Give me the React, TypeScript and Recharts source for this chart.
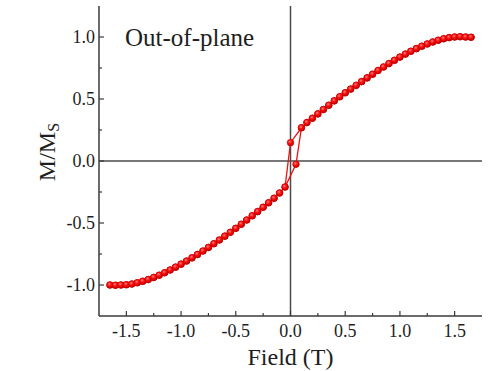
import { Line, LineChart, ReferenceLine, XAxis, YAxis } from "recharts";

// field sweep from +sat down to -sat (T)
const fieldDown = [
  1.65, 1.6, 1.55, 1.5, 1.45, 1.4, 1.35, 1.3, 1.25, 1.2, 1.15, 1.1, 1.05, 1.0, 0.95, 0.9,
  0.85, 0.8, 0.75, 0.7, 0.65, 0.6, 0.55, 0.5, 0.45, 0.4, 0.35, 0.3, 0.25, 0.2, 0.15, 0.1,
  0.0, -0.05, -0.1, -0.15, -0.2, -0.25, -0.3, -0.35, -0.4, -0.45, -0.5, -0.55, -0.6, -0.65,
  -0.7, -0.75, -0.8, -0.85, -0.9, -0.95, -1.0, -1.05, -1.1, -1.15, -1.2, -1.25, -1.3, -1.35,
  -1.4, -1.45, -1.5, -1.55, -1.6, -1.65,
];
const mDown = [
  0.998, 1.0, 1.002, 1.0, 0.995, 0.986, 0.974, 0.96, 0.944, 0.926, 0.906, 0.885, 0.862, 0.838,
  0.812, 0.786, 0.758, 0.73, 0.7, 0.67, 0.64, 0.61, 0.58, 0.55, 0.518, 0.485, 0.45, 0.415, 0.38,
  0.345, 0.31, 0.268, 0.148, -0.21, -0.258, -0.3, -0.337, -0.373, -0.408, -0.442, -0.476, -0.51,
  -0.543, -0.575, -0.606, -0.637, -0.667, -0.697, -0.726, -0.754, -0.781, -0.807, -0.832, -0.856,
  -0.879, -0.901, -0.921, -0.939, -0.956, -0.97, -0.982, -0.992, -0.998, -1.0, -1.002, -1.0,
];

// return sweep from -sat back up to +sat
const fieldUp = [
  -1.65, -1.6, -1.55, -1.5, -1.45, -1.4, -1.35, -1.3, -1.25, -1.2, -1.15, -1.1, -1.05, -1.0,
  -0.95, -0.9, -0.85, -0.8, -0.75, -0.7, -0.65, -0.6, -0.55, -0.5, -0.45, -0.4, -0.35, -0.3,
  -0.25, -0.2, -0.15, -0.1, -0.05, 0.05, 0.1, 0.15, 0.2, 0.25, 0.3, 0.35, 0.4, 0.45, 0.5, 0.55,
  0.6, 0.65, 0.7, 0.75, 0.8, 0.85, 0.9, 0.95, 1.0, 1.05, 1.1, 1.15, 1.2, 1.25, 1.3, 1.35, 1.4,
  1.45, 1.5, 1.55, 1.6, 1.65,
];
const mUp = [
  -1.0, -1.002, -1.0, -0.998, -0.992, -0.982, -0.97, -0.956, -0.939, -0.921, -0.901, -0.879,
  -0.856, -0.832, -0.807, -0.781, -0.754, -0.726, -0.697, -0.667, -0.637, -0.606, -0.575, -0.543,
  -0.51, -0.476, -0.442, -0.408, -0.373, -0.337, -0.3, -0.258, -0.21, -0.027, 0.268, 0.31, 0.345,
  0.38, 0.415, 0.45, 0.485, 0.518, 0.55, 0.58, 0.61, 0.64, 0.67, 0.7, 0.73, 0.758, 0.786, 0.812,
  0.838, 0.862, 0.885, 0.906, 0.926, 0.944, 0.96, 0.974, 0.986, 0.995, 1.0, 1.002, 1.0, 0.998,
];

const xTicks = [-1.5, -1.25, -1.0, -0.75, -0.5, -0.25, 0, 0.25, 0.5, 0.75, 1.0, 1.25, 1.5];
const yTicks = [-1.0, -0.75, -0.5, -0.25, 0, 0.25, 0.5, 0.75, 1.0];

const loop = [
  ...fieldDown.map((f, i) => ({ field: f, m: mDown[i] })),
  ...fieldUp.map((f, i) => ({ field: f, m: mUp[i] })),
];

const FONT = "'Liberation Serif', 'Times New Roman', serif";
const FRAME = "#3a3a3a";
const TEXT = "#1e1e1e";
const RED = "#f01010";

const isMajor = (v: number) => Math.abs(v * 2 - Math.round(v * 2)) < 1e-6;
const fmt = (v: number) => (Math.abs(v) < 1e-9 ? "0.0" : v.toFixed(1));

function BottomTick({ x, y, payload }: any) {
  const major = isMajor(payload.value);
  return (
    <g>
      <line x1={x} x2={x} y1={y} y2={y - (major ? 5 : 3)} stroke={FRAME} strokeWidth={1.2} />
      {major && (
        <text x={x} y={y + 21} textAnchor="middle" fontSize={18} fontFamily={FONT} fill={TEXT}>
          {fmt(payload.value)}
        </text>
      )}
    </g>
  );
}

function TopTick({ x, y, payload }: any) {
  const major = isMajor(payload.value);
  return <line x1={x} x2={x} y1={y} y2={y + (major ? 5 : 3)} stroke={FRAME} strokeWidth={1.2} />;
}

function LeftTick({ x, y, payload }: any) {
  const major = isMajor(payload.value);
  return (
    <g>
      <line x1={x} x2={x + (major ? 5 : 3)} y1={y} y2={y} stroke={FRAME} strokeWidth={1.2} />
      {major && (
        <text x={x - 4} y={y + 6} textAnchor="end" fontSize={18} fontFamily={FONT} fill={TEXT}>
          {fmt(payload.value)}
        </text>
      )}
    </g>
  );
}

function RightTick({ x, y, payload }: any) {
  const major = isMajor(payload.value);
  return <line x1={x} x2={x - (major ? 5 : 3)} y1={y} y2={y} stroke={FRAME} strokeWidth={1.2} />;
}

function BallDot({ cx, cy, index }: any) {
  if (cx == null || cy == null) return null;
  return (
    <circle key={`dot-${index}`} cx={cx} cy={cy} r={3.3} fill="url(#ball)" stroke="#c40000" strokeWidth={0.6} />
  );
}

function XTitle({ viewBox }: any) {
  const { x, y, width } = viewBox;
  return (
    <text x={x + width / 2} y={y + 49} textAnchor="middle" fontSize={24} fontFamily={FONT} fill={TEXT}>
      Field (T)
    </text>
  );
}

function YTitle({ viewBox }: any) {
  const { x, y, height } = viewBox;
  const cx = x + 16;
  const cy = y + height / 2 - 9;
  return (
    <text
      x={cx}
      y={cy}
      transform={`rotate(-90, ${cx}, ${cy})`}
      textAnchor="middle"
      fontSize={24}
      fontFamily={FONT}
      fill={TEXT}
    >
      M/M
      <tspan fontSize={16} dy={4}>
        S
      </tspan>
    </text>
  );
}

export default function App() {
  return (
    <div style={{ position: "absolute", left: 0, top: 0, width: 488, height: 371, background: "#fff" }}>
      <LineChart width={488} height={371} data={loop} margin={{ top: 6, right: 6, bottom: 0, left: 39 }}>
        <defs>
          <radialGradient id="ball" cx="40%" cy="35%" r="65%">
            <stop offset="0%" stopColor="#ff8080" />
            <stop offset="45%" stopColor="#ff1010" />
            <stop offset="100%" stopColor="#c00000" />
          </radialGradient>
        </defs>
        <XAxis
          type="number"
          dataKey="field"
          domain={[-1.75, 1.75]}
          ticks={xTicks}
          allowDataOverflow
          height={55}
          tickSize={0}
          tickMargin={0}
          tickLine={false}
          interval={0}
          axisLine={{ stroke: FRAME, strokeWidth: 1.5 }}
          tick={BottomTick}
          label={{ content: XTitle }}
        />
        <XAxis
          xAxisId="top"
          orientation="top"
          type="number"
          dataKey="field"
          domain={[-1.75, 1.75]}
          ticks={xTicks}
          allowDataOverflow
          height={0}
          tickSize={0}
          tickMargin={0}
          tickLine={false}
          interval={0}
          axisLine={{ stroke: FRAME, strokeWidth: 1.5 }}
          tick={TopTick}
        />
        <YAxis
          type="number"
          domain={[-1.25, 1.25]}
          ticks={yTicks}
          allowDataOverflow
          width={60}
          tickSize={0}
          tickMargin={0}
          tickLine={false}
          interval={0}
          axisLine={{ stroke: FRAME, strokeWidth: 1.5 }}
          tick={LeftTick}
          label={{ content: YTitle }}
        />
        <YAxis
          yAxisId="right"
          orientation="right"
          type="number"
          domain={[-1.25, 1.25]}
          ticks={yTicks}
          allowDataOverflow
          width={0}
          tickSize={0}
          tickMargin={0}
          tickLine={false}
          interval={0}
          axisLine={{ stroke: FRAME, strokeWidth: 1.5 }}
          tick={RightTick}
        />
        <ReferenceLine x={0} stroke="#4a4a4a" strokeWidth={1.5} />
        <ReferenceLine y={0} stroke="#4a4a4a" strokeWidth={1.5} />
        <Line
          type="linear"
          dataKey="m"
          stroke={RED}
          strokeWidth={1.3}
          dot={BallDot}
          activeDot={false}
          isAnimationActive={false}
        />
        <text x={125} y={46} fontSize={25} fontFamily={FONT} fill={TEXT}>
          Out-of-plane
        </text>
      </LineChart>
    </div>
  );
}
